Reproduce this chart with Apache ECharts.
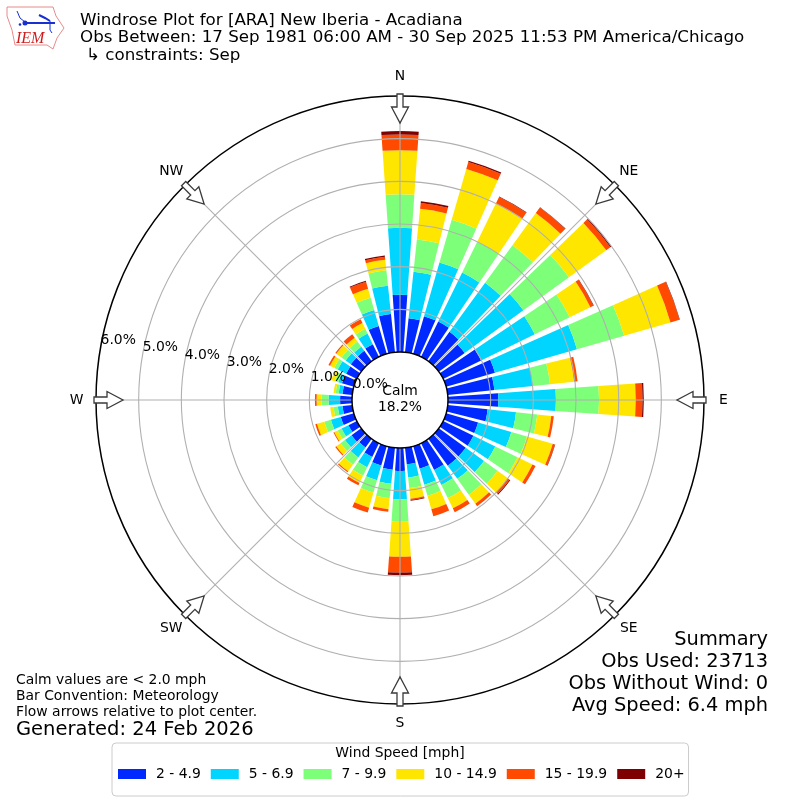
<!DOCTYPE html>
<html><head><meta charset="utf-8">
<style>html,body{margin:0;padding:0;background:#fff}#c{width:800px;height:800px}</style>
<script src="https://cdn.jsdelivr.net/npm/echarts@6/dist/echarts.min.js"></script>
</head><body><div id="c"></div>
<script>
const directions = ['0','10','20','30','40','50','60','70','80','90','100','110','120','130','140','150','160','170','180','190','200','210','220','230','240','250','260','270','280','290','300','310','320','330','340','350'];
const compass = ['N','NE','E','SE','S','SW','W','NW'];
const speedNames = ['2 - 4.9','5 - 6.9','7 - 9.9','10 - 14.9','15 - 19.9','20+'];
const speedColors = ['#0029ff','#00d5ff','#7dff7a','#ffe600','#ff4a00','#7f0000'];
const s2to5   = [1.34,.80,.92,.92,.85,.75,.99,1.19,1.10,1.18,.94,.78,.79,.78,.78,.70,.55,.39,.54,.52,.47,.36,.25,.28,.22,.32,.23,.28,.23,.29,.28,.30,.30,.33,.68,.90];
const s5to7   = [1.57,1.10,1.31,1.28,1.42,1.70,1.40,2.00,.91,1.35,.67,.81,.57,.53,.38,.39,.39,.31,.66,.33,.36,.27,.29,.19,.18,.24,.11,.27,.09,.09,.22,.15,.12,.28,.39,.67];
const s7to10  = [.79,.76,1.04,.81,1.09,1.32,.91,1.15,.40,1.01,.50,.38,.58,.39,.46,.34,.27,.25,.53,.34,.30,.22,.21,.13,.10,.16,.10,.16,.07,.08,.09,.12,.15,.12,.30,.36];
const s10to15 = [1.03,.72,1.24,.99,.93,1.08,.54,1.13,.57,.86,.33,.63,.39,.30,.26,.27,.33,.25,.82,.26,.37,.19,.19,.12,.09,.18,.08,.12,.05,.09,.11,.15,.11,.15,.22,.25];
const s15to20 = [.37,.14,.17,.17,.16,.12,.08,.22,.08,.16,.06,.05,.08,.05,.07,.10,.17,.03,.37,.06,.12,.06,.03,.03,.02,.04,0,.04,0,0,.04,.03,.10,.10,.17,.07];
const s20up   = [.08,.04,.03,.01,.01,.03,.01,.01,0,.03,0,.01,0,.02,0,0,0,.02,.06,0,0,0,0,0,0,0,0,0,0,0,0,0,0,0,.02,.03];
const speedSeries = [s2to5,s5to7,s7to10,s10to15,s15to20,s20up];
const radialTicks = [0,1,2,3,4,5,6];

const CX=400, CY=400, R0=48, R1=304;
const font='"DejaVu Sans"';
const pc=[CX,CY], pr=[R0,R1];
const gridColor='#b0b0b0';

function txt(x,y,text,size,align,extra){
  return {type:'text',zlevel:2,z:20,style:Object.assign({x:x,y:y,text:text,font:size+'px '+font,fill:'#000',textAlign:align||'left',textVerticalAlign:'middle'},extra||{})};
}
function arrow(deg){
  const a=deg*Math.PI/180, ux=Math.sin(a), uy=-Math.cos(a), vx=-uy, vy=ux;
  const pts=[[306,3],[293,3],[293,8.5],[277,0],[293,-8.5],[293,-3],[306,-3]]
    .map(p=>[CX+ux*p[0]+vx*p[1],CY+uy*p[0]+vy*p[1]]);
  return {type:'polygon',zlevel:2,z:15,shape:{points:pts},style:{fill:'#fff',stroke:'#3a3a3a',lineWidth:1.3}};
}
const graphics=[];
// grid on top of the bars, as in the reference
radialTicks.slice(1,-1).forEach(t=>{
  graphics.push({type:'circle',zlevel:1,z:1,silent:true,shape:{cx:CX,cy:CY,r:R0+(R1-R0)*t/6},style:{fill:'none',stroke:gridColor,lineWidth:1.1}});
});
compass.forEach((name,i)=>{
  const deg=i*45, a=deg*Math.PI/180, sx=Math.sin(a), cy=Math.cos(a);
  graphics.push({type:'line',zlevel:1,z:1,silent:true,shape:{x1:CX+R0*sx,y1:CY-R0*cy,x2:CX+R1*sx,y2:CY-R1*cy},style:{stroke:gridColor,lineWidth:1.1}});
  graphics.push(arrow(deg));
  graphics.push(txt(CX+323.5*sx,CY-323.5*cy,name,13.9,'center'));
});
graphics.push(txt(400,391,'Calm',13.9,'center'),txt(400,407,'18.2%',13.9,'center'));
graphics.push(txt(80,20.5,'Windrose Plot for [ARA] New Iberia - Acadiana',16.7),
  txt(80,38,'Obs Between: 17 Sep 1981 06:00 AM - 30 Sep 2025 11:53 PM America/Chicago',16.7),
  txt(86,55.5,'↳ constraints: Sep',16.7));
graphics.push(txt(16,680,'Calm values are < 2.0 mph',13.9),txt(16,696,'Bar Convention: Meteorology',13.9),
  txt(16,712,'Flow arrows relative to plot center.',13.9),txt(16,730,'Generated: 24 Feb 2026',19.5));
graphics.push(txt(768,640,'Summary',19.4,'right'),txt(768,662,'Obs Used: 23713',19.4,'right'),
  txt(768,684,'Obs Without Wind: 0',19.4,'right'),txt(768,706,'Avg Speed: 6.4 mph',19.4,'right'));
graphics.push(txt(400,753,'Wind Speed [mph]',13.9,'center'));
// IEM logo
const L={zlevel:2,z:20};
graphics.push(Object.assign({type:'polyline',shape:{points:[[7,7],[53,7],[56,16],[64,28],[57,38],[53,49],[47,45],[15,45],[12,30],[7,16],[7,7]]},style:{fill:'none',stroke:'#e88a8a',lineWidth:1}},L));
graphics.push(Object.assign({type:'polyline',shape:{points:[[25,23],[55,23]]},style:{stroke:'#1a2fd0',lineWidth:2,fill:'none'}},L));
graphics.push(Object.assign({type:'polyline',shape:{points:[[17,11],[20,18],[25,22]]},style:{stroke:'#1a2fd0',lineWidth:1,fill:'none'}},L));
graphics.push(Object.assign({type:'polyline',shape:{points:[[39,15],[45,18],[50,21]]},style:{stroke:'#1a2fd0',lineWidth:2,fill:'none'}},L));
graphics.push(Object.assign({type:'polyline',shape:{points:[[50,21],[50,30],[52,33]]},style:{stroke:'#1a2fd0',lineWidth:1,fill:'none'}},L));
graphics.push(Object.assign({type:'circle',shape:{cx:25,cy:23,r:2.5},style:{fill:'#1a2fd0'}},L));
graphics.push(Object.assign({type:'circle',shape:{cx:20,cy:24.5,r:1.3},style:{fill:'#1a2fd0'}},L));
graphics.push(Object.assign({type:'text',style:{x:16,y:39,text:'IEM',font:'italic 16px "Liberation Serif"',fill:'#d01c1c',textVerticalAlign:'middle'}},L));

const option={
  animation:false,
  backgroundColor:'#fff',
  polar:[{center:pc,radius:pr},{center:pc,radius:pr}],
  angleAxis:[
    {polarIndex:0,type:'category',data:directions,startAngle:95,clockwise:true,boundaryGap:true,
      axisLine:{show:false},axisTick:{show:false},axisLabel:{show:false},splitLine:{show:false}},
    {polarIndex:1,type:'value',min:0,max:360,startAngle:170,zlevel:2,z:7,
      axisLine:{show:true,lineStyle:{color:'#000',width:1.5}},axisTick:{show:false},axisLabel:{show:false},splitLine:{show:false}}
  ],
  radiusAxis:[
    {polarIndex:0,type:'value',min:0,max:6,show:false},
    {polarIndex:1,type:'value',min:0,max:6,interval:1,zlevel:2,z:6,
      axisLine:{show:false},axisTick:{show:false},splitLine:{show:false},
      axisLabel:{show:true,margin:0,color:'#000',fontFamily:font,fontSize:13.9,align:'left',verticalAlign:'bottom',
        formatter:v=>radialTicks.includes(v)?v.toFixed(1)+'%':''}}
  ],
  legend:{left:112,top:743,padding:[24,4,15,6],itemWidth:28,itemHeight:10,itemGap:10,
    borderColor:'#ccc',borderWidth:1,borderRadius:4,backgroundColor:'#fff',selectedMode:false,
    icon:'rect',textStyle:{color:'#000',fontFamily:font,fontSize:13.9,padding:[0,0,0,5]},
    data:speedNames},
  series:speedSeries.map((vals,i)=>({
    type:'bar',name:speedNames[i],coordinateSystem:'polar',polarIndex:0,stack:'wind',data:vals,
    barWidth:'80%',z:2,itemStyle:{color:speedColors[i]},emphasis:{disabled:true},silent:true
  })),
  graphic:graphics
};
echarts.init(document.getElementById('c'),null,{renderer:'canvas'}).setOption(option);
</script></body></html>
